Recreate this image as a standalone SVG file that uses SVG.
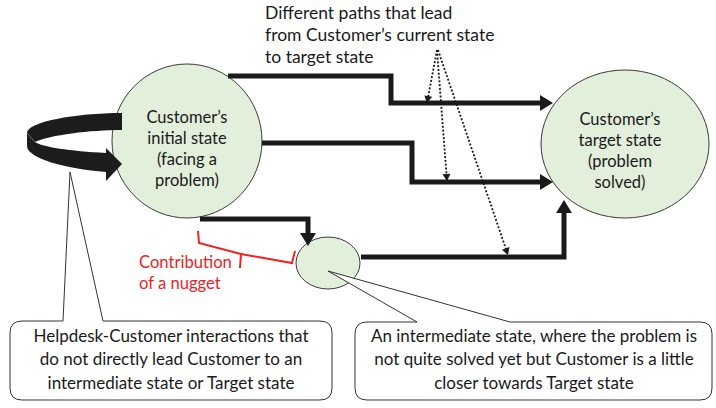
<svg xmlns="http://www.w3.org/2000/svg" width="716" height="408" viewBox="0 0 716 408">
<style>
text{font-family:Lato,"Liberation Sans",sans-serif;font-size:16.5px;fill:#1a1a1a}
.c{text-anchor:middle}
.big{font-size:17.5px}
.box{font-size:17px}
.st{fill:#e2efda;stroke:#3a3a3a;stroke-width:1}
.th{fill:none;stroke:#1a1a1a;stroke-width:5}
.dot{fill:none;stroke:#1a1a1a;stroke-width:1.8;stroke-dasharray:2 1.8}
.call{fill:#fff;stroke:#333;stroke-width:1}
.red{fill:#ee2222;font-size:16.6px}
</style>
<defs>
<marker id="ah" markerUnits="userSpaceOnUse" markerWidth="14" markerHeight="16" refX="0" refY="8" orient="auto" overflow="visible">
<path d="M0,0 L13,8 L0,16 Z" fill="#1a1a1a"/>
</marker>
<marker id="sa" markerUnits="userSpaceOnUse" markerWidth="8" markerHeight="8" refX="7" refY="4" orient="auto" overflow="visible">
<path d="M0,0 L7,4 L0,8 Z" fill="#1a1a1a"/>
</marker>
</defs>
<g id="node-initial">
<ellipse class="st" cx="187" cy="141" rx="75" ry="77"/>
<text class="c" x="187" y="123">Customer’s</text>
<text class="c" x="187" y="144">initial state</text>
<text class="c" x="187" y="165">(facing a</text>
<text class="c" x="187" y="186">problem)</text>
</g>
<g id="node-target">
<ellipse class="st" cx="625" cy="144" rx="84" ry="74"/>
<text class="c" x="620" y="125">Customer’s</text>
<text class="c" x="620" y="146">target state</text>
<text class="c" x="620" y="167">(problem</text>
<text class="c" x="620" y="188">solved)</text>
</g>
<g id="node-intermediate">
<ellipse class="st" cx="328" cy="263" rx="32" ry="26"/>
</g>
<g id="connectors">
<path class="th" d="M228,76 H391 V103 H540" marker-end="url(#ah)"/>
<path class="th" d="M262,143 H412 V182 H540" marker-end="url(#ah)"/>
<path class="th" d="M200,219 H308 V233" marker-end="url(#ah)"/>
<path class="th" d="M361,257 H564 V213" marker-end="url(#ah)"/>
<path d="M122,113 C75,113 27,122 27,133 L27,146 C27,158 65,169 106,172 L106,181 L122,164 L106,148 L106,153 C70,151 42,147 35,142 C50,135 90,130 122,130 Z" fill="#1c1c1c"/>
<path d="M27,133 L35,142" stroke="#888" stroke-width="0.8" fill="none"/>
<path class="dot" d="M437,50 L427,103" marker-end="url(#sa)"/>
<path class="dot" d="M437,50 L447,181" marker-end="url(#sa)"/>
<path class="dot" d="M438,50 L508,255" marker-end="url(#sa)"/>
</g>
<g id="label-paths">
<text class="big" x="265" y="19">Different paths that lead</text>
<text class="big" x="265" y="41">from Customer’s current state</text>
<text class="big" x="265" y="63">to target state</text>
</g>
<g id="label-nugget">
<path d="M198,231 L199,243 L241,254 L240,268 M241,254 L292,263 L295,251" fill="none" stroke="#ee2222" stroke-width="2"/>
<text class="red" x="139" y="268">Contribution</text>
<text class="red" x="139" y="289">of a nugget</text>
</g>
<g id="callout-left">
<path class="call" d="M22,321 H63 L70,172 L103,321 H320 Q332,321 332,333 V388 Q332,400 320,400 H22 Q10,400 10,388 V333 Q10,321 22,321 Z"/>
<text class="c box" x="171" y="342">Helpdesk-Customer interactions that</text>
<text class="c box" x="171" y="365">do not directly lead Customer to an</text>
<text class="c box" x="171" y="389">intermediate state or Target state</text>
</g>
<g id="callout-right">
<path class="call" d="M367,322 H417 L328,271 L510,322 H700 Q712,322 712,334 V388 Q712,400 700,400 H367 Q355,400 355,388 V334 Q355,322 367,322 Z"/>
<text class="c box" x="534" y="342">An intermediate state, where the problem is</text>
<text class="c box" x="534" y="365">not quite solved yet but Customer is a little</text>
<text class="c box" x="534" y="389">closer towards Target state</text>
</g>
</svg>
